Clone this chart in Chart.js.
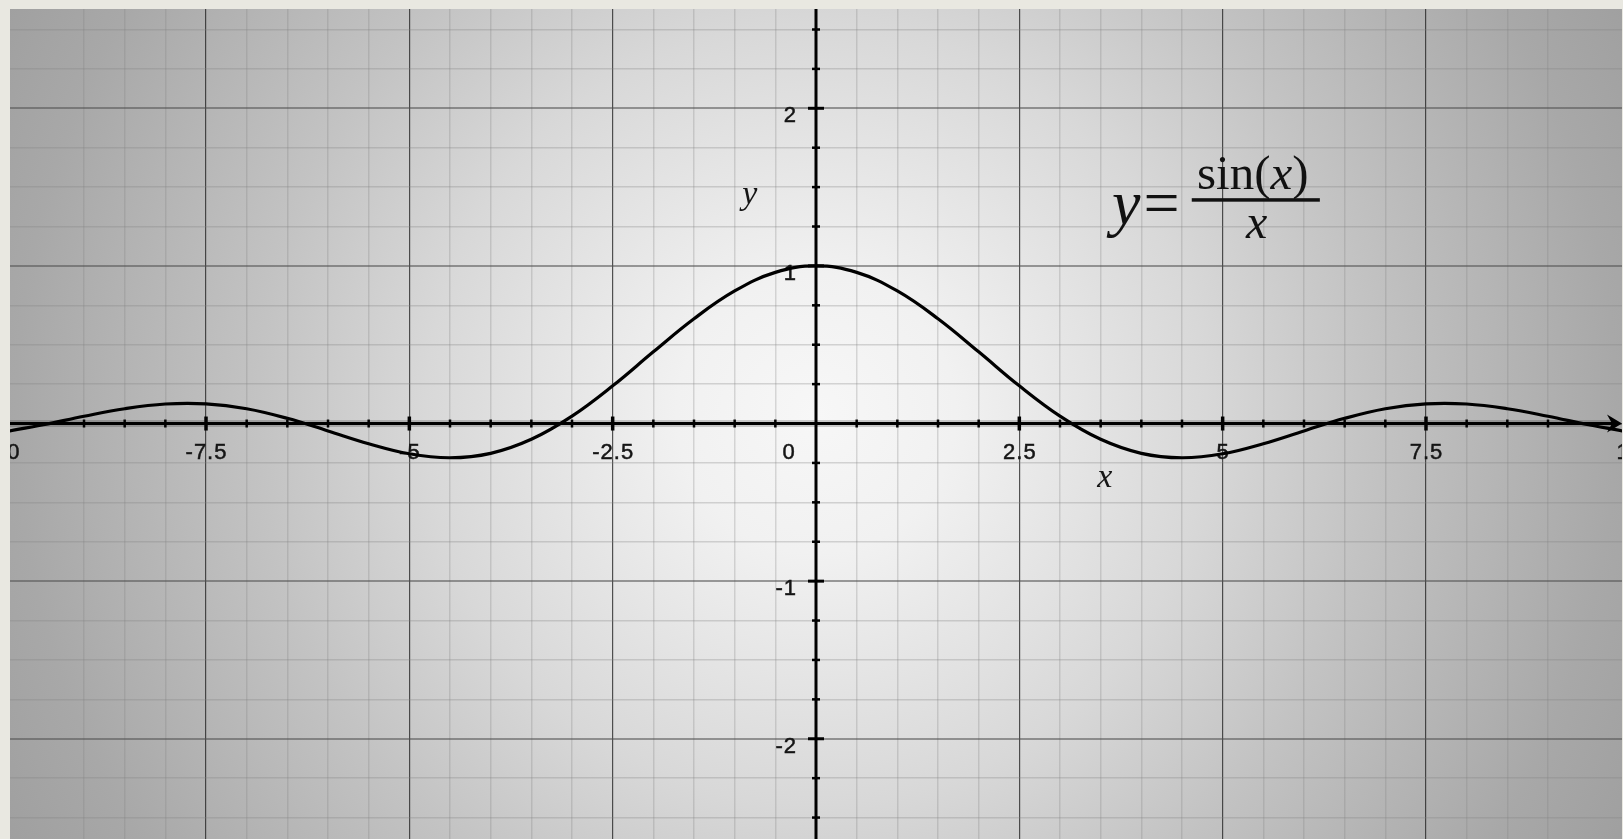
<!DOCTYPE html>
<html>
<head>
<meta charset="utf-8">
<title>y = sin(x)/x</title>
<script src="https://cdn.jsdelivr.net/npm/chart.js@4.4.1/dist/chart.umd.min.js"></script>
<style>
  html, body { margin: 0; padding: 0; background: #e9e8e1; overflow: hidden; }
  #wrap { position: relative; width: 1623px; height: 839px; }
</style>
</head>
<body>
<div id="wrap"><canvas id="chart"></canvas></div>
<script>
// sampled points of the curve, every 0.5 along x
const xValues = [-10, -9.5, -9, -8.5, -8, -7.5, -7, -6.5, -6, -5.5, -5, -4.5, -4, -3.5, -3, -2.5, -2, -1.5, -1, -0.5,
  0, 0.5, 1, 1.5, 2, 2.5, 3, 3.5, 4, 4.5, 5, 5.5, 6, 6.5, 7, 7.5, 8, 8.5, 9, 9.5, 10]
const yValues = [-0.054, -0.008, 0.046, 0.094, 0.124, 0.125, 0.094, 0.033, -0.047, -0.128, -0.192, -0.217, -0.189, -0.100, 0.047, 0.239, 0.455, 0.665, 0.841, 0.959,
  1.000, 0.959, 0.841, 0.665, 0.455, 0.239, 0.047, -0.100, -0.189, -0.217, -0.192, -0.128, -0.047, 0.033, 0.094, 0.125, 0.124, 0.094, 0.046, -0.008, -0.054]

// axis labels
const xTickValues = [-10, -7.5, -5, -2.5, 2.5, 5, 7.5, 10]
const xTickLabels = ['-10', '-7.5', '-5', '-2.5', '2.5', '5', '7.5', '10']
const yTickValues = [-2, -1, 1, 2]
const yTickLabels = ['-2', '-1', '1', '2']

const X_MIN = -9.91, X_MAX = 9.91
const Y_MIN = -2.636, Y_MAX = 2.63

const SANS = '"Liberation Sans", Arial, Helvetica, sans-serif'
const SERIF = '"Liberation Serif", "Times New Roman", serif'

const isMultiple = (v, step) => Math.abs(v / step - Math.round(v / step)) < 1e-6

// graph-paper grid: fine lines plus darker major lines
const gridColor = (major, minor, majorColor, minorColor) => (c) => {
  const v = c.tick.value
  if (isMultiple(v, major)) return majorColor
  if (isMultiple(v, minor)) return minorColor
  return 'rgba(0,0,0,0)'
}

// slightly heavier text for the tick numbers
const label = (ctx, text, px, py) => {
  ctx.fillText(text, px, py)
  ctx.strokeText(text, px, py)
}

const paper = {
  id: 'paper',
  beforeDraw(chart) {
    const { ctx, chartArea: a, scales: { x, y } } = chart
    const cx = x.getPixelForValue(0), cy = y.getPixelForValue(0) - 10
    const g = ctx.createRadialGradient(cx, cy, 0, cx, cy, 930)
    g.addColorStop(0, '#f7f7f7')
    g.addColorStop(0.15, '#f1f1f1')
    g.addColorStop(0.42, '#d8d8d8')
    g.addColorStop(0.6, '#c3c3c3')
    g.addColorStop(0.86, '#a8a8a8')
    g.addColorStop(1, '#9e9e9e')
    ctx.save()
    ctx.fillStyle = g
    ctx.fillRect(a.left, a.top, a.right - a.left, a.bottom - a.top)
    ctx.restore()
  },
  beforeDatasetsDraw(chart) {
    const { ctx, chartArea: a, scales: { x, y } } = chart
    const x0 = x.getPixelForValue(0), y0 = y.getPixelForValue(0)
    ctx.save()
    ctx.beginPath()
    ctx.rect(a.left, a.top, a.right - a.left, a.bottom - a.top)
    ctx.clip()

    // axes
    ctx.strokeStyle = 'rgba(0,0,0,0.18)'
    ctx.lineWidth = 7
    ctx.beginPath(); ctx.moveTo(a.left, y0); ctx.lineTo(a.right - 8, y0); ctx.stroke()
    ctx.strokeStyle = '#000'
    ctx.lineWidth = 3
    ctx.beginPath(); ctx.moveTo(a.left, y0); ctx.lineTo(a.right - 8, y0); ctx.stroke()
    ctx.beginPath(); ctx.moveTo(x0, a.top); ctx.lineTo(x0, a.bottom); ctx.stroke()

    // arrow head on the x axis
    ctx.fillStyle = '#000'
    ctx.beginPath()
    ctx.moveTo(a.right, y0)
    ctx.lineTo(a.right - 15, y0 - 9)
    ctx.lineTo(a.right - 10, y0)
    ctx.lineTo(a.right - 15, y0 + 9)
    ctx.closePath()
    ctx.fill()

    // tick marks
    x.ticks.forEach(t => {
      if (!isMultiple(t.value, 0.5) || Math.abs(t.value) < 1e-6) return
      const px = x.getPixelForValue(t.value)
      const major = isMultiple(t.value, 2.5)
      const h = major ? 7 : 4
      ctx.lineWidth = major ? 3.5 : 2.5
      ctx.beginPath(); ctx.moveTo(px, y0 - h); ctx.lineTo(px, y0 + h); ctx.stroke()
    })
    y.ticks.forEach(t => {
      if (!isMultiple(t.value, 0.25) || Math.abs(t.value) < 1e-6) return
      const py = y.getPixelForValue(t.value)
      const major = isMultiple(t.value, 1)
      const w = major ? 8 : 4
      ctx.lineWidth = major ? 3 : 2.5
      ctx.beginPath(); ctx.moveTo(x0 - w, py); ctx.lineTo(x0 + w, py); ctx.stroke()
    })

    // tick labels
    ctx.fillStyle = '#151515'
    ctx.strokeStyle = '#151515'
    ctx.lineWidth = 0.5
    ctx.font = '22px ' + SANS
    ctx.letterSpacing = '1px'
    ctx.textBaseline = 'alphabetic'
    ctx.textAlign = 'center'
    xTickValues.forEach((v, i) => {
      label(ctx, xTickLabels[i], x.getPixelForValue(v) + 0.5, y0 + 35)
    })
    label(ctx, '0', x0 - 27, y0 + 35)
    ctx.textAlign = 'right'
    yTickValues.forEach((v, i) => {
      label(ctx, yTickLabels[i], x0 - 19, y.getPixelForValue(v) + 14)
    })
    ctx.letterSpacing = '0px'

    // axis names
    ctx.font = 'italic 34px ' + SERIF
    ctx.textAlign = 'center'
    ctx.fillText('y', x.getPixelForValue(-0.815), y.getPixelForValue(1.395))
    ctx.fillText('x', x.getPixelForValue(3.55), y.getPixelForValue(-0.404))
    ctx.restore()
  },
  afterDatasetsDraw(chart) {
    const { ctx, scales: { x, y } } = chart
    ctx.save()
    ctx.fillStyle = '#111'
    ctx.textBaseline = 'alphabetic'
    ctx.textAlign = 'left'

    // y =
    const fx = x.getPixelForValue(3.64), fb = y.getPixelForValue(1.265)
    ctx.font = 'italic 64px ' + SERIF
    ctx.fillText('y', fx, fb)
    const yw = ctx.measureText('y').width
    ctx.font = '64px ' + SERIF
    ctx.fillText('=', fx + yw + 3, fb)

    // numerator sin(x)
    const parts = [['sin(', '49px '], ['x', 'italic 49px '], [')', '49px ']]
    let total = 0
    parts.forEach(p => { ctx.font = p[1] + SERIF; total += ctx.measureText(p[0]).width })
    let nx = x.getPixelForValue(5.37) - total / 2
    const nb = y.getPixelForValue(1.49)
    parts.forEach(p => {
      ctx.font = p[1] + SERIF
      ctx.fillText(p[0], nx, nb)
      nx += ctx.measureText(p[0]).width
    })

    // fraction bar
    const bl = x.getPixelForValue(4.62), br = x.getPixelForValue(6.195)
    const by = y.getPixelForValue(1.417)
    ctx.fillRect(bl, by - 2, br - bl, 3.5)

    // denominator x
    ctx.font = 'italic 48px ' + SERIF
    ctx.textAlign = 'center'
    ctx.fillText('x', x.getPixelForValue(5.417), y.getPixelForValue(1.18))
    ctx.restore()
  }
}

const noSize = (scale) => {
  if (scale.isHorizontal()) scale.height = 0
  else scale.width = 0
}

new Chart(document.getElementById('chart'), {
  type: 'line',
  data: {
    datasets: [{
      data: xValues.map((v, i) => ({ x: v, y: yValues[i] })),
      borderColor: '#000',
      borderWidth: 3.2,
      tension: 0.4,
      pointRadius: 0,
      fill: false
    }]
  },
  options: {
    responsive: true,
    maintainAspectRatio: false,
    animation: false,
    events: [],
    layout: { padding: { left: 10, top: 9, right: 1, bottom: 0 } },
    plugins: { legend: { display: false }, tooltip: { enabled: false } },
    scales: {
      x: {
        type: 'linear',
        min: X_MIN,
        max: X_MAX,
        afterFit: noSize,
        ticks: { display: false, stepSize: 0.5 },
        border: { display: false },
        grid: {
          drawTicks: false,
          color: gridColor(2.5, 0.5, 'rgba(30,30,30,0.75)', 'rgba(130,130,130,0.28)'),
          lineWidth: (c) => isMultiple(c.tick.value, 2.5) ? 1.2 : 1.5
        }
      },
      y: {
        type: 'linear',
        min: Y_MIN,
        max: Y_MAX,
        afterFit: noSize,
        ticks: { display: false, stepSize: 0.25 },
        border: { display: false },
        grid: {
          drawTicks: false,
          color: gridColor(1, 0.25, 'rgba(80,80,80,0.55)', 'rgba(130,130,130,0.3)'),
          lineWidth: (c) => isMultiple(c.tick.value, 1) ? 2 : 1.5
        }
      }
    }
  },
  plugins: [paper]
})
</script>
</body>
</html>
